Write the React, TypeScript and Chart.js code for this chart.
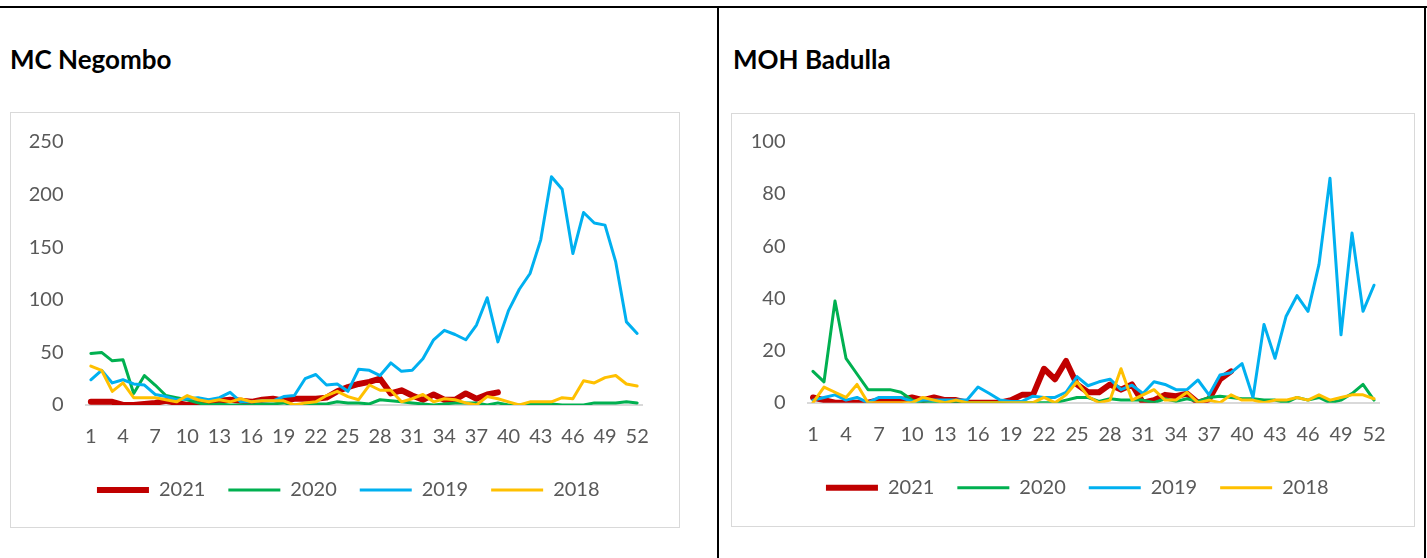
import React, { useEffect, useRef } from "react";
import { Chart, registerables } from "chart.js";

Chart.register(...registerables);

// ---------- data ----------
const weeks = [
  "1", "2", "3", "4", "5", "6", "7", "8", "9", "10", "11", "12", "13",
  "14", "15", "16", "17", "18", "19", "20", "21", "22", "23", "24", "25", "26",
  "27", "28", "29", "30", "31", "32", "33", "34", "35", "36", "37", "38", "39",
  "40", "41", "42", "43", "44", "45", "46", "47", "48", "49", "50", "51", "52",
];

const seriesLabels = ["2021", "2020", "2019", "2018"];

// MC Negombo
const negombo2021 = [
  3, 3, 3, 0, 0, 1, 2, 4, 2, 0, 2, 3, 4, 5, 4, 3, 5, 6, 4, 6, 6, 6, 7, 13, 17, 20,
  22, 25, 11, 14, 9, 5, 10, 5, 5, 11, 6, 10, 12,
];
const negombo2020 = [
  49, 50, 42, 43, 11, 28, 19, 9, 7, 5, 2, 0, 1, 0, 0, 0, 1, 1, 2, 0, 0, 1, 1, 3, 2, 2,
  1, 5, 4, 3, 2, 1, 0, 1, 2, 2, 2, 0, 2, 0, 0, 1, 1, 1, 0, 0, 0, 2, 2, 2, 3, 2,
];
const negombo2019 = [
  24, 33, 21, 24, 20, 19, 10, 8, 5, 6, 7, 5, 7, 12, 3, 3, 4, 4, 8, 9, 25, 29, 19, 20, 13, 34,
  33, 28, 40, 32, 33, 44, 62, 71, 67, 62, 76, 102, 60, 90, 110, 125, 157, 217, 205, 144, 183, 173, 171, 136, 79, 68,
];
const negombo2018 = [
  37, 33, 13, 21, 7, 7, 7, 5, 3, 9, 5, 3, 5, 3, 6, 3, 4, 4, 4, 0, 2, 3, 9, 13, 8, 5,
  19, 14, 14, 3, 6, 10, 3, 6, 5, 2, 0, 8, 6, 3, 0, 3, 3, 3, 7, 6, 23, 21, 26, 28, 20, 18,
];

// MOH Badulla
const badulla2021 = [
  2, 1, 0, 0, 0, 0, 1, 1, 1, 2, 1, 2, 1, 1, 0, 0, 0, 0, 1, 3, 3, 13, 9, 16, 7, 4,
  4, 7, 5, 7, 0, 1, 3, 2.5, 3.5, 0, 1.3, 9, 12,
];
const badulla2020 = [
  12, 8, 39, 17, 11, 5, 5, 5, 4, 1, 0, 0, 0, 0, 0, 0, 0, 0, 0, 0, 0, 0, 0, 1, 2, 2,
  0.5, 1.5, 1, 1, 1, 0, 1.5, 0.5, 1.5, 0.5, 2, 2.5, 2, 1.5, 1.5, 1, 1, 0, 2, 1, 2, 0, 1, 3.5, 7, 1,
];
const badulla2019 = [
  1, 2, 3, 1, 2, 0, 2, 2, 2, 0.5, 1, 1, 1, 1, 1, 6, 3.6, 1, 0.5, 0.5, 2.5, 2, 2, 4, 10, 6.5,
  8, 9, 5, 6.7, 3.5, 8, 7, 5, 5, 8.7, 3, 10.6, 11.5, 15, 2, 30, 17, 33, 41, 35, 53, 86, 26, 65, 35, 45,
];
const badulla2018 = [
  0, 6, 4, 2, 7, 0, 0, 0, 0, 0, 2, 1, 0, 1, 0, 0, 0, 0, 0, 0, 0, 2, 0, 3, 8, 2.4,
  0, 1, 13, 1, 3, 5, 1, 1, 4, 0, 1, 0, 3, 1, 1, 0, 1, 1, 2, 1, 3, 1, 2, 3, 3, 1.5,
];

const negomboTicks = { max: 250, step: 50 };
const badullaTicks = { max: 100, step: 20 };

// ---------- styling ----------
const COLORS = ["#C00000", "#00B050", "#00B0F0", "#FFC000"];
const WIDTHS = [6, 3, 3, 3];
const TEXT = "#595959";
const FONT = "Lato, 'Open Sans', sans-serif";

type Geo = {
  left: number;
  top: number;
  width: number;
  height: number;
  yAxisWidth: number;
  padTop: number;
  padRight: number;
  padBottom: number;
  xAxisHeight: number;
  legendShift: number;
};

function LineChart(props: {
  series: (number | null)[][];
  max: number;
  step: number;
  geo: Geo;
}) {
  const ref = useRef<HTMLCanvasElement | null>(null);
  const { series, max, step, geo } = props;

  useEffect(() => {
    if (!ref.current) return;
    const datasets = series.map((data, i) => ({
      label: seriesLabels[i],
      data,
      borderColor: COLORS[i],
      backgroundColor: COLORS[i],
      borderWidth: WIDTHS[i],
      pointRadius: 0,
      pointHoverRadius: 0,
      tension: 0,
      fill: false,
      borderJoinStyle: "round" as const,
      borderCapStyle: "round" as const,
      order: 3 - i,
    }));
    const legendShift = {
      id: "legendShift",
      afterLayout(chart: any) {
        if (chart.legend) {
          chart.legend.left += geo.legendShift;
          chart.legend.right += geo.legendShift;
        }
      },
    };
    const chart = new Chart(ref.current, {
      type: "line",
      data: { labels: weeks, datasets },
      plugins: [legendShift],
      options: {
        animation: false,
        responsive: true,
        maintainAspectRatio: false,
        events: [],
        layout: {
          padding: { left: 0, right: geo.padRight, top: geo.padTop, bottom: geo.padBottom },
        },
        plugins: {
          tooltip: { enabled: false },
          title: { display: false },
          legend: {
            position: "bottom",
            labels: {
              usePointStyle: true,
              pointStyle: "line",
              pointStyleWidth: 52,
              padding: 23,
              color: TEXT,
              font: { family: FONT, size: 20 },
              sort: (a: any, b: any) => a.datasetIndex - b.datasetIndex,
            },
          },
        },
        scales: {
          x: {
            type: "category",
            offset: true,
            grid: { display: false, drawTicks: false },
            border: { display: true, color: "#D9D9D9", width: 2 },
            ticks: {
              autoSkip: false,
              maxRotation: 0,
              minRotation: 0,
              padding: 20,
              color: TEXT,
              font: { family: FONT, size: 20 },
              callback: (_v: any, i: number) => (i % 3 === 0 ? weeks[i] : ""),
            },
            afterFit: (s: any) => {
              s.height = geo.xAxisHeight;
              s.paddingLeft = 0;
              s.paddingRight = 0;
            },
          },
          y: {
            min: 0,
            max,
            grid: { display: false, drawTicks: false },
            border: { display: false },
            ticks: {
              stepSize: step,
              padding: 22,
              color: TEXT,
              font: { family: FONT, size: 20 },
            },
            afterFit: (s: any) => {
              s.width = geo.yAxisWidth;
              s.paddingTop = 0;
              s.paddingBottom = 0;
            },
          },
        },
      },
    });
    return () => chart.destroy();
  }, []);

  return (
    <div
      style={{
        position: "absolute",
        left: geo.left,
        top: geo.top,
        width: geo.width,
        height: geo.height,
      }}
    >
      <canvas ref={ref} />
    </div>
  );
}

const leftGeo: Geo = {
  left: 11,
  top: 113,
  width: 668,
  height: 415,
  yAxisWidth: 74.5,
  padTop: 29,
  padRight: 36.5,
  padBottom: 18,
  xAxisHeight: 52,
  legendShift: 21.5,
};

const rightGeo: Geo = {
  left: 732,
  top: 114,
  width: 682,
  height: 412,
  yAxisWidth: 75.5,
  padTop: 27.7,
  padRight: 34.5,
  padBottom: 18.3,
  xAxisHeight: 52,
  legendShift: 21.5,
};

const titleStyle: React.CSSProperties = {
  position: "absolute",
  top: 44,
  fontFamily: FONT,
  fontWeight: 700,
  fontSize: 26,
  lineHeight: 1.2,
  color: "#000",
  whiteSpace: "nowrap",
};

export default function App() {
  return (
    <div
      style={{
        position: "absolute",
        left: 0,
        top: 0,
        width: 1427,
        height: 558,
        background: "#fff",
        overflow: "hidden",
      }}
    >
      {/* page borders */}
      <div style={{ position: "absolute", left: 0, top: 6, width: 1427, height: 2, background: "#000" }} />
      <div style={{ position: "absolute", left: 717, top: 6, width: 2, height: 552, background: "#000" }} />
      <div style={{ position: "absolute", left: 1424, top: 6, width: 2, height: 552, background: "#000" }} />

      {/* titles */}
      <div style={{ ...titleStyle, left: 10 }}>MC Negombo</div>
      <div style={{ ...titleStyle, left: 733 }}>MOH Badulla</div>

      {/* chart frames */}
      <div
        style={{
          position: "absolute",
          left: 10,
          top: 112,
          width: 670,
          height: 416,
          border: "1px solid #D9D9D9",
          boxSizing: "border-box",
        }}
      />
      <div
        style={{
          position: "absolute",
          left: 731,
          top: 113,
          width: 684,
          height: 414,
          border: "1px solid #D9D9D9",
          boxSizing: "border-box",
        }}
      />

      <LineChart
        series={[negombo2021, negombo2020, negombo2019, negombo2018]}
        max={negomboTicks.max}
        step={negomboTicks.step}
        geo={leftGeo}
      />
      <LineChart
        series={[badulla2021, badulla2020, badulla2019, badulla2018]}
        max={badullaTicks.max}
        step={badullaTicks.step}
        geo={rightGeo}
      />
    </div>
  );
}
